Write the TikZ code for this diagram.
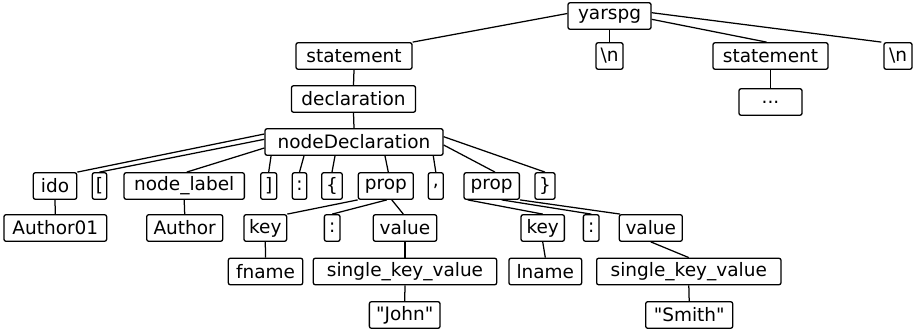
\documentclass[tikz,border=0pt]{standalone}
\usepackage{fontspec}
% plain family without TeX ligature mapping, so " stays a straight quote
\newfontfamily\treefont{DejaVu Sans}
\begin{document}
\begin{tikzpicture}[x=1pt,y=-1pt,
  tb/.style={draw=black, line width=1.3pt, rounded corners=2pt, fill=white,
    inner sep=0pt, minimum height=26.5pt, font=\treefont\fontsize{18.5}{22}\selectfont},
  edge/.style={draw=black, line width=1.25pt}]
\useasboundingbox (0,0) rectangle (915,331);

% root and statements
\node[tb, minimum width=83pt]  (yarspg) at (609.5,16) {yarspg};
\node[tb, minimum width=116pt] (stmtA)  at (354,56)   {statement};
\node[tb, minimum width=27pt]  (nlA)    at (609.5,56) {\textbackslash n};
\node[tb, minimum width=115pt] (stmtB)  at (770.5,56) {statement};
\node[tb, minimum width=28pt]  (nlB)    at (898,56)   {\textbackslash n};
\node[tb, minimum width=124pt] (decl)   at (353.5,99) {declaration};
\node[tb, minimum width=63pt]  (dots)   at (770.5,102) {...};
\node[tb, minimum width=178pt] (ndecl)  at (354,142)  {nodeDeclaration};

% children of nodeDeclaration
\node[tb, minimum width=43.4pt]  (ido)    at (55,186)    {ido};
\node[tb, minimum width=14.4pt]  (lbr)    at (99.5,186)  {[};
\node[tb, minimum width=120.3pt] (nlabel) at (184.2,186) {node\_label};
\node[tb, minimum width=16pt]    (rbr)    at (268.7,186) {]};
\node[tb, minimum width=14.4pt]  (colA)   at (299.5,186) {:};
\node[tb, minimum width=20.6pt]  (lbrace) at (332,186)   {\{};
\node[tb, minimum width=55pt]    (propA)  at (385.8,186) {prop};
\node[tb, minimum width=15pt]    (comma)  at (435.8,186) {,};
\node[tb, minimum width=55.3pt]  (propB)  at (491.7,186) {prop};
\node[tb, minimum width=20pt]    (rbrace) at (545,186)   {\}};

% fifth row
\node[tb, minimum width=102.7pt] (auth01) at (55.3,228)  {Author01};
\node[tb, minimum width=76pt]    (auth)   at (184.7,228) {Author};
\node[tb, minimum width=42.7pt]  (keyA)   at (265.3,228) {key};
\node[tb, minimum width=15.7pt]  (colB)   at (332.2,228) {:};
\node[tb, minimum width=63.4pt]  (valA)   at (405,228)   {value};
\node[tb, minimum width=43.3pt]  (keyB)   at (542.7,228) {key};
\node[tb, minimum width=15.7pt]  (colC)   at (591.2,228) {:};
\node[tb, minimum width=63pt]    (valB)   at (650.8,228) {value};

% sixth row
\node[tb, minimum width=74.4pt]  (fname)  at (265.5,271.5) {fname};
\node[tb, minimum width=183.4pt] (skvA)   at (405,271.5)   {single\_key\_value};
\node[tb, minimum width=72.7pt]  (lname)  at (545.3,271.5) {lname};
\node[tb, minimum width=184.3pt] (skvB)   at (688.8,271.5) {single\_key\_value};

% leaves
\node[tb, minimum width=70.7pt] (john)  at (404.7,315) {"John"};
\node[tb, minimum width=87pt]   (smith) at (689.2,315) {"Smith"};

% edges from the root
\path[edge] ([yshift=2.5pt]yarspg.west) -- (stmtA.north east);
\path[edge] (yarspg.south) -- (nlA.north);
\path[edge] ([yshift=-3.3pt]yarspg.east) -- ([xshift=-4pt]stmtB.north);
\path[edge] ([yshift=3.3pt]yarspg.east) -- ([xshift=-2pt]nlB.north west);
\path[edge] (stmtA.south) -- (decl.north);
\path[edge] (decl.south) -- (ndecl.north);
\path[edge] (stmtB.south) -- (dots.north);

% edges from nodeDeclaration
\path[edge] ([yshift=8pt]ndecl.west) -- (ido.north east);
\path[edge] ([yshift=2.7pt]ndecl.west) -- (lbr.north);
\path[edge] ([yshift=-6pt]ndecl.west) -- ([xshift=2.5pt]nlabel.north);
\path[edge] ([xshift=6.7pt]ndecl.south west) -- (rbr.north);
\path[edge] ([xshift=-50pt]ndecl.south) -- (colA.north);
\path[edge] ([xshift=-19pt]ndecl.south) -- (lbrace.north);
\path[edge] ([xshift=31pt]ndecl.south) -- ([xshift=2.5pt]propA.north);
\path[edge] ([xshift=79.3pt]ndecl.south) -- (comma.north);
\path[edge] ([yshift=-3pt]ndecl.east) -- ([xshift=3.3pt]propB.north);
\path[edge] ([yshift=5.3pt]ndecl.east) -- (rbrace.north);

% edges from the prop nodes
\path[edge] (propA.south west) -- (keyA.north east);
\path[edge] ([xshift=1pt]propA.south) -- (colB.north);
\path[edge] ([xshift=6pt]propA.south) -- ([xshift=-1.7pt]valA.north);
\path[edge] ([xshift=4.3pt]propB.south west) -- (keyB.north);
\path[edge] ([xshift=10pt]propB.south) -- (colC.north);
\path[edge] (propB.south east) -- ([xshift=1.5pt]valB.north west);

% lower edges
\path[edge] (ido.south) -- (auth01.north);
\path[edge] (nlabel.south) -- (auth.north);
\path[edge] (keyA.south) -- (fname.north);
\path[edge] (valA.south) -- (skvA.north);
\path[edge] (keyB.south) -- (lname.north);
\path[edge] (valB.south) -- (skvB.north);
\path[edge] (skvA.south) -- (john.north);
\path[edge] (skvB.south) -- (smith.north);
\end{tikzpicture}
\end{document}
